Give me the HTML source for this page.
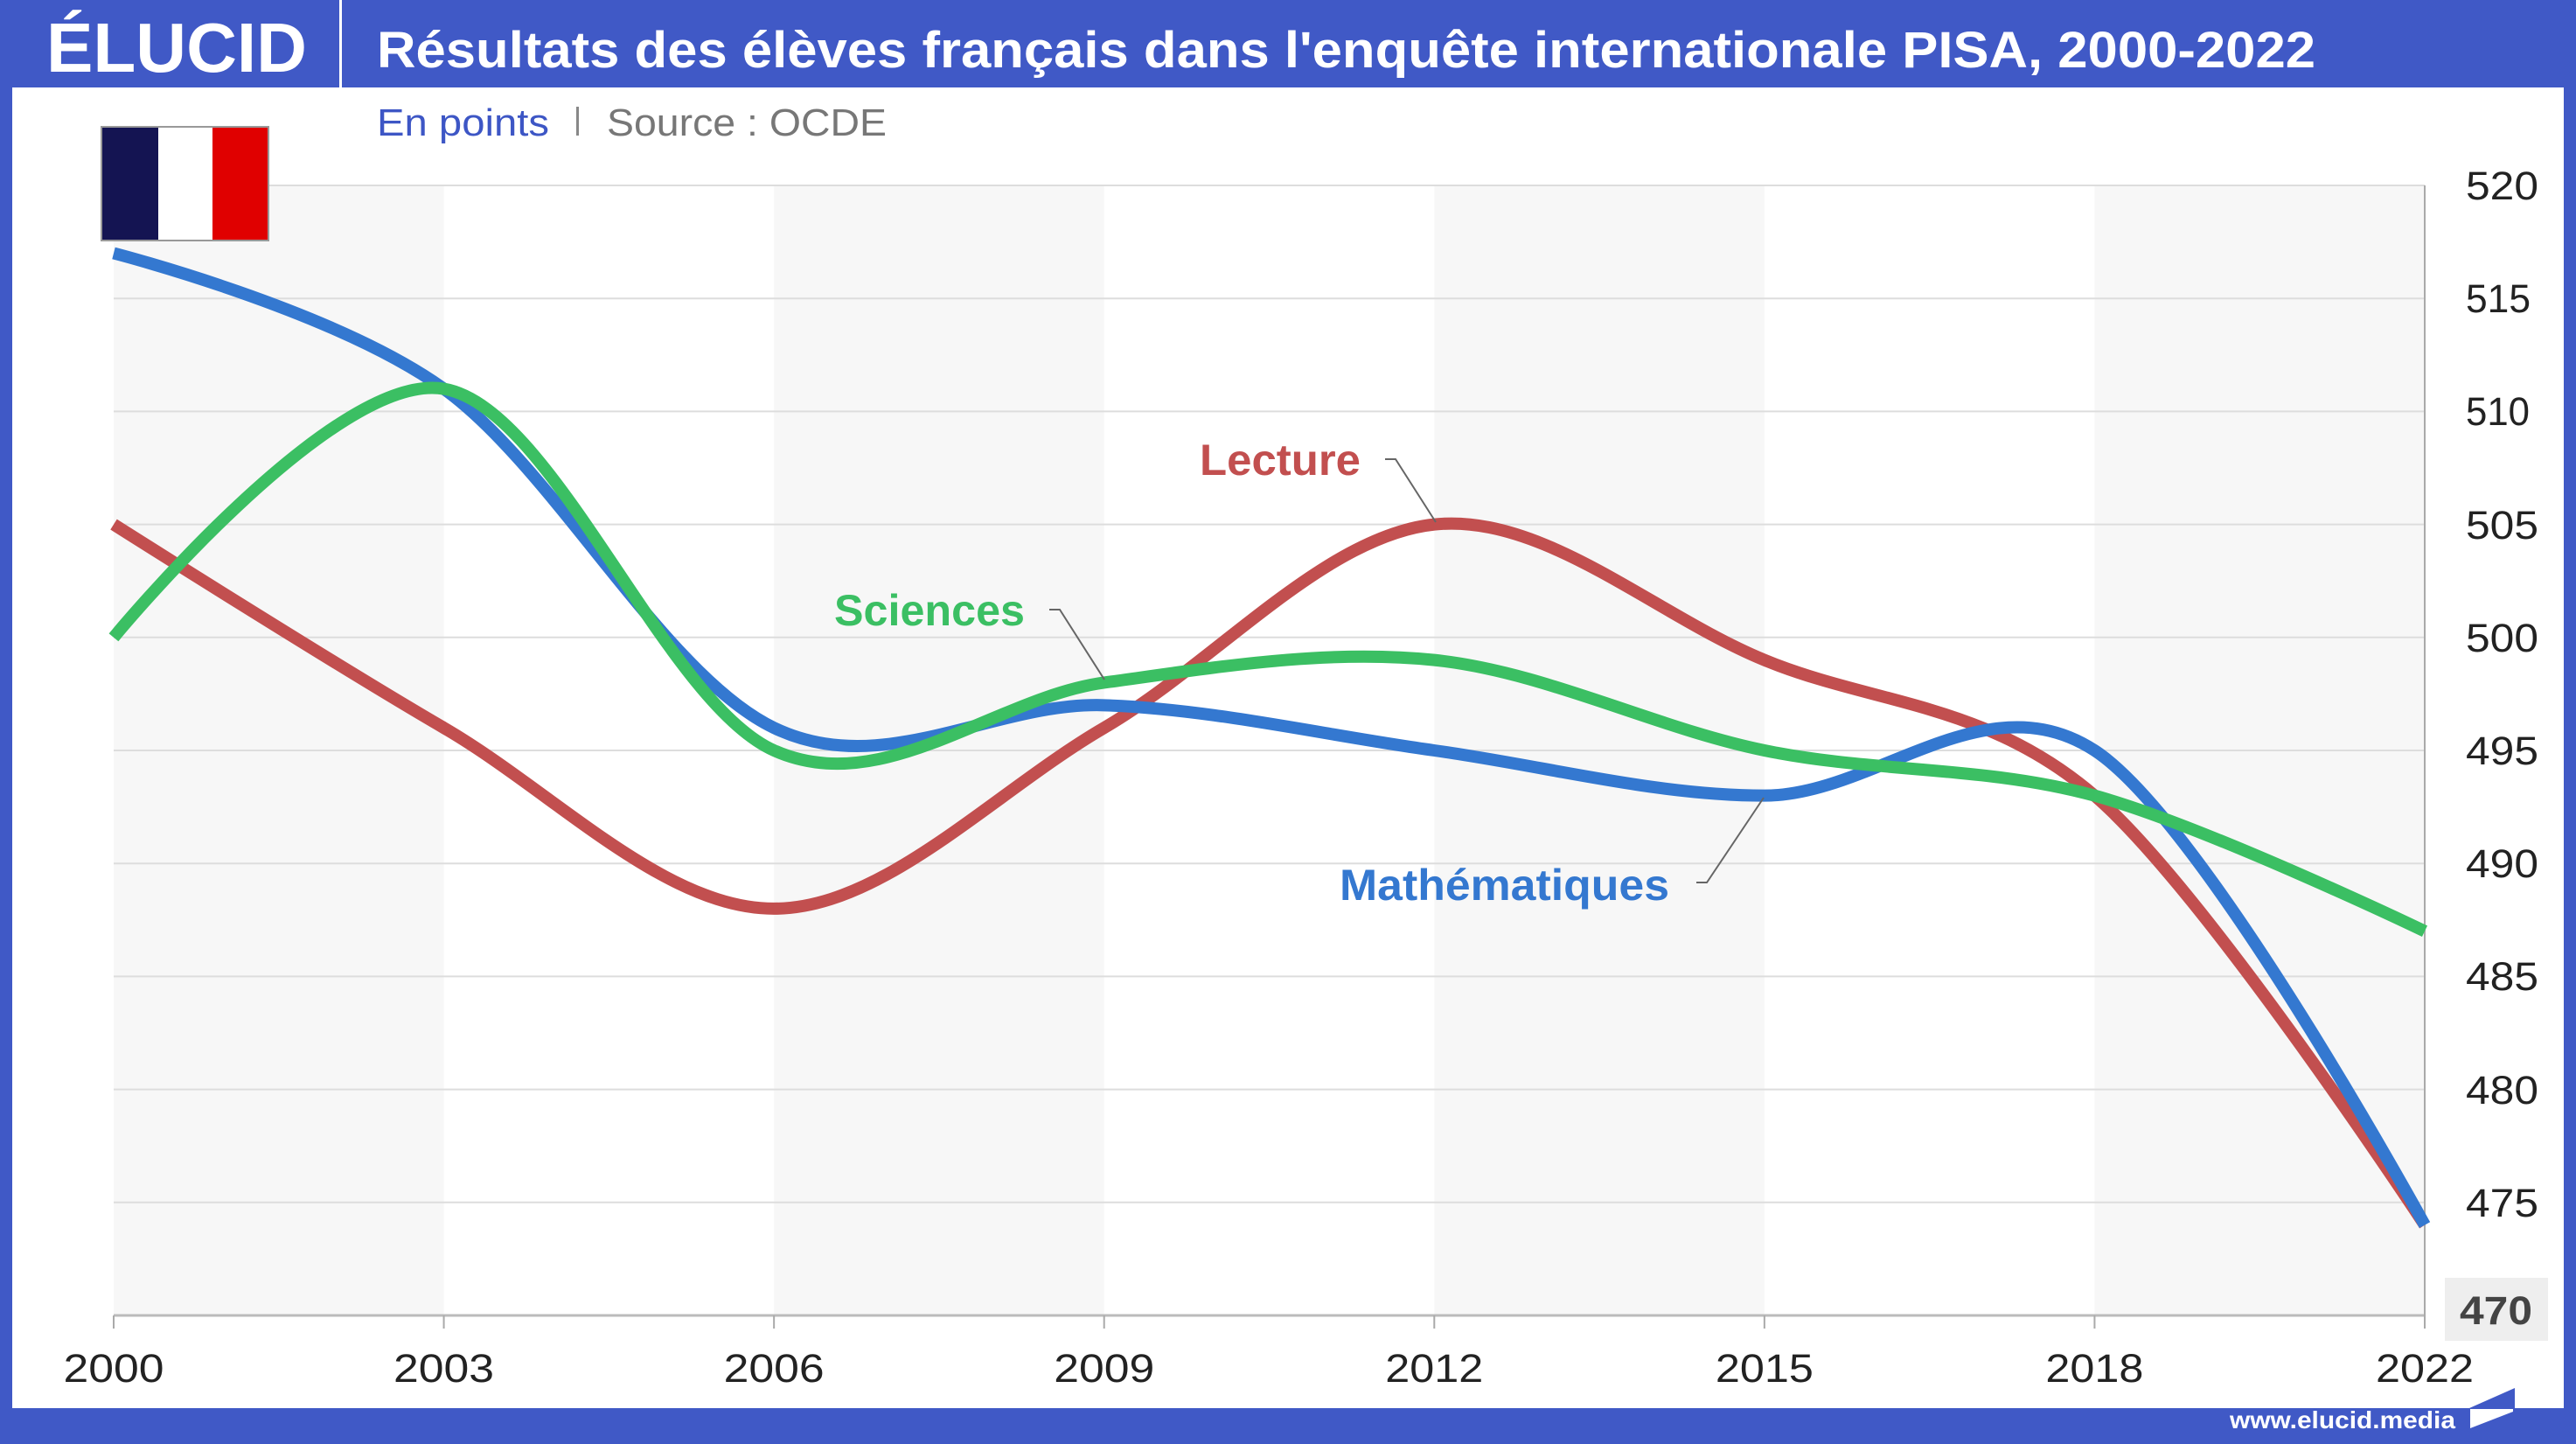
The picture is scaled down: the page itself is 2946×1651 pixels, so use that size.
<!DOCTYPE html>
<html>
<head>
<meta charset="utf-8">
<style>
  html, body { margin:0; padding:0; background:#ffffff; }
  svg { display:block; }
  text { font-family: "Liberation Sans", "DejaVu Sans", sans-serif; }
</style>
</head>
<body>
<svg xmlns="http://www.w3.org/2000/svg" width="2946" height="1651" viewBox="0 0 2946 1651">
  <!-- frame -->
  <rect x="0" y="0" width="2946" height="1651" fill="#4059c6"/>
  <rect x="14" y="100" width="2918" height="1510" fill="#ffffff"/>

  <!-- header -->
  <text x="53" y="82" font-size="80" font-weight="bold" fill="#ffffff" textLength="298" lengthAdjust="spacingAndGlyphs">ÉLUCID</text>
  <rect x="388" y="0" width="3" height="100" fill="#ffffff"/>
  <text x="431" y="77" font-size="58" font-weight="bold" fill="#ffffff" textLength="2217" lengthAdjust="spacingAndGlyphs">Résultats des élèves français dans l'enquête internationale PISA, 2000-2022</text>

  <!-- subtitle -->
  <text x="431" y="155" font-size="44" fill="#3d56c5" textLength="197" lengthAdjust="spacingAndGlyphs">En points</text>
  <rect x="659" y="122" width="3" height="33" fill="#888888"/>
  <text x="694" y="155" font-size="44" fill="#777777" textLength="320" lengthAdjust="spacingAndGlyphs">Source : OCDE</text>

  <!-- stripes -->
  <g fill="#f7f7f7">
    <rect x="130" y="212" width="377.57" height="1292"/>
    <rect x="885.14" y="212" width="377.57" height="1292"/>
    <rect x="1640.29" y="212" width="377.57" height="1292"/>
    <rect x="2395.43" y="212" width="377.57" height="1292"/>
  </g>

  <!-- gridlines -->
  <g stroke="#dddddd" stroke-width="2">
    <line x1="130" y1="212" x2="2773" y2="212"/>
    <line x1="130" y1="341.2" x2="2773" y2="341.2"/>
    <line x1="130" y1="470.4" x2="2773" y2="470.4"/>
    <line x1="130" y1="599.6" x2="2773" y2="599.6"/>
    <line x1="130" y1="728.8" x2="2773" y2="728.8"/>
    <line x1="130" y1="858" x2="2773" y2="858"/>
    <line x1="130" y1="987.2" x2="2773" y2="987.2"/>
    <line x1="130" y1="1116.4" x2="2773" y2="1116.4"/>
    <line x1="130" y1="1245.6" x2="2773" y2="1245.6"/>
    <line x1="130" y1="1374.8" x2="2773" y2="1374.8"/>
  </g>

  <!-- axes -->
  <line x1="130" y1="1504" x2="2773" y2="1504" stroke="#bbbbbb" stroke-width="3"/>
  <line x1="2773" y1="212" x2="2773" y2="1519" stroke="#aaaaaa" stroke-width="2"/>
  <g stroke="#aaaaaa" stroke-width="2">
    <line x1="130" y1="1504" x2="130" y2="1519"/>
    <line x1="507.57" y1="1504" x2="507.57" y2="1519"/>
    <line x1="885.14" y1="1504" x2="885.14" y2="1519"/>
    <line x1="1262.71" y1="1504" x2="1262.71" y2="1519"/>
    <line x1="1640.29" y1="1504" x2="1640.29" y2="1519"/>
    <line x1="2017.86" y1="1504" x2="2017.86" y2="1519"/>
    <line x1="2395.43" y1="1504" x2="2395.43" y2="1519"/>
  </g>

  <!-- flag -->
  <rect x="115" y="144" width="193" height="132" fill="#999999"/>
  <rect x="117" y="146" width="64" height="128" fill="#141452"/>
  <rect x="181" y="146" width="62" height="128" fill="#ffffff"/>
  <rect x="243" y="146" width="63" height="128" fill="#e00000"/>

  <!-- series -->
  <g fill="none" stroke-width="14" stroke-linecap="butt" stroke-linejoin="round">
    <path stroke="#c24f4f" d="M130,599.6 C130,599.6 381.71,758.95 507.57,832.16 C633.43,905.37 759.28,1038.88 885.14,1038.88 C1011,1038.88 1136.85,905.37 1262.71,832.16 C1388.57,758.95 1514.43,612.52 1640.29,599.6 C1766.15,586.68 1892,702.96 2017.86,754.64 C2143.72,806.32 2269.57,802.01 2395.43,909.68 C2521.29,1017.35 2773,1400.64 2773,1400.64"/>
    <path stroke="#3478d0" d="M130,289.52 C130,289.52 381.71,354.12 507.57,444.56 C633.43,535 759.28,771.87 885.14,832.16 C1011,892.45 1136.85,802.01 1262.71,806.32 C1388.57,810.63 1514.43,840.77 1640.29,858 C1766.15,875.23 1892,909.68 2017.86,909.68 C2143.72,909.68 2269.57,776.17 2395.43,858 C2521.29,939.83 2773,1400.64 2773,1400.64"/>
    <path stroke="#3bbf63" d="M130,728.8 C130,728.8 381.71,423.03 507.57,444.56 C633.43,466.09 759.28,802.01 885.14,858 C1011,913.99 1136.85,797.71 1262.71,780.48 C1388.57,763.25 1514.43,741.72 1640.29,754.64 C1766.15,767.56 1892,832.16 2017.86,858 C2143.72,883.84 2269.57,875.23 2395.43,909.68 C2521.29,944.13 2773,1064.72 2773,1064.72"/>
  </g>

  <!-- leader lines -->
  <g fill="none" stroke="#666666" stroke-width="2">
    <polyline points="1584,525 1596,525 1642,597"/>
    <polyline points="1200,697 1212,697 1263,777"/>
    <polyline points="1940,1009 1952,1009 2017,912"/>
  </g>

  <!-- series labels -->
  <text x="1372" y="543" font-size="50" font-weight="bold" fill="#c24f4f" textLength="184" lengthAdjust="spacingAndGlyphs">Lecture</text>
  <text x="954" y="715" font-size="50" font-weight="bold" fill="#3bbf63" textLength="218" lengthAdjust="spacingAndGlyphs">Sciences</text>
  <text x="1532" y="1029" font-size="50" font-weight="bold" fill="#3478d0" textLength="377" lengthAdjust="spacingAndGlyphs">Mathématiques</text>

  <!-- y labels -->
  <g font-size="45" fill="#222222">
    <text x="2820" y="228" textLength="83" lengthAdjust="spacingAndGlyphs">520</text>
    <text x="2820" y="357" textLength="74" lengthAdjust="spacingAndGlyphs">515</text>
    <text x="2820" y="486" textLength="73" lengthAdjust="spacingAndGlyphs">510</text>
    <text x="2820" y="616" textLength="83" lengthAdjust="spacingAndGlyphs">505</text>
    <text x="2820" y="745" textLength="83" lengthAdjust="spacingAndGlyphs">500</text>
    <text x="2820" y="874" textLength="83" lengthAdjust="spacingAndGlyphs">495</text>
    <text x="2820" y="1003" textLength="83" lengthAdjust="spacingAndGlyphs">490</text>
    <text x="2820" y="1132" textLength="83" lengthAdjust="spacingAndGlyphs">485</text>
    <text x="2820" y="1262" textLength="83" lengthAdjust="spacingAndGlyphs">480</text>
    <text x="2820" y="1391" textLength="83" lengthAdjust="spacingAndGlyphs">475</text>
  </g>
  <rect x="2796" y="1461" width="118" height="72" fill="#eeeeee"/>
  <text x="2813" y="1514" font-size="45" font-weight="bold" fill="#444444" textLength="83" lengthAdjust="spacingAndGlyphs">470</text>

  <!-- x labels -->
  <g font-size="45" fill="#222222" text-anchor="middle">
    <text x="130" y="1580" textLength="115" lengthAdjust="spacingAndGlyphs">2000</text>
    <text x="507.57" y="1580" textLength="115" lengthAdjust="spacingAndGlyphs">2003</text>
    <text x="885.14" y="1580" textLength="115" lengthAdjust="spacingAndGlyphs">2006</text>
    <text x="1262.71" y="1580" textLength="115" lengthAdjust="spacingAndGlyphs">2009</text>
    <text x="1640.29" y="1580" textLength="112" lengthAdjust="spacingAndGlyphs">2012</text>
    <text x="2017.86" y="1580" textLength="112" lengthAdjust="spacingAndGlyphs">2015</text>
    <text x="2395.43" y="1580" textLength="112" lengthAdjust="spacingAndGlyphs">2018</text>
    <text x="2773" y="1580" textLength="112" lengthAdjust="spacingAndGlyphs">2022</text>
  </g>

  <!-- footer -->
  <text x="2550" y="1633" font-size="28" font-weight="bold" fill="#ffffff" textLength="258" lengthAdjust="spacingAndGlyphs">www.elucid.media</text>
  <polygon points="2824,1610 2876,1587 2876,1610" fill="#4059c6"/>
  <polygon points="2825,1611 2874,1611 2874,1614 2825,1633" fill="#ffffff"/>
</svg>
</body>
</html>
